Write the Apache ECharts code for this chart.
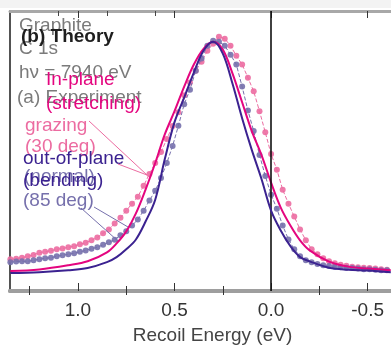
<!DOCTYPE html>
<html>
<head>
<meta charset="utf-8">
<script src="https://cdn.jsdelivr.net/npm/echarts@6/dist/echarts.min.js"></script>
<style>
  html, body { margin: 0; padding: 0; background: #ffffff; }
  #chart { width: 391px; height: 350px; }
</style>
</head>
<body>
<div id="chart"></div>
<script>
// ---- data (energies in eV, intensity in arbitrary normalized units) ----
const theoryEnergy = [1.35, 1.2, 1.05, 0.95, 0.85, 0.8, 0.75, 0.7, 0.65, 0.6, 0.55, 0.5, 0.45, 0.4, 0.35, 0.3, 0.25, 0.2, 0.15, 0.1, 0.05, 0.0, -0.05, -0.1, -0.15, -0.2, -0.3, -0.4, -0.5, -0.62];
const theoryOutOfPlane = [0.064, 0.067, 0.074, 0.082, 0.103, 0.121, 0.149, 0.184, 0.248, 0.326, 0.472, 0.603, 0.691, 0.780, 0.858, 0.890, 0.848, 0.741, 0.617, 0.504, 0.401, 0.287, 0.216, 0.160, 0.121, 0.106, 0.083, 0.076, 0.073, 0.067];
const theoryInPlane = [0.071, 0.077, 0.092, 0.106, 0.138, 0.170, 0.213, 0.277, 0.362, 0.457, 0.560, 0.642, 0.730, 0.809, 0.865, 0.890, 0.862, 0.777, 0.674, 0.571, 0.486, 0.387, 0.298, 0.234, 0.181, 0.145, 0.105, 0.087, 0.080, 0.074];

const expEnergy = [1.35, 1.32, 1.29, 1.26, 1.23, 1.20, 1.17, 1.14, 1.11, 1.08, 1.05, 1.02, 0.99, 0.96, 0.93, 0.90, 0.87, 0.84, 0.81, 0.78, 0.75, 0.72, 0.69, 0.66, 0.63, 0.60, 0.57, 0.54, 0.51, 0.48, 0.45, 0.42, 0.39, 0.36, 0.33, 0.30, 0.27, 0.24, 0.21, 0.18, 0.15, 0.12, 0.09, 0.06, 0.03, 0.00, -0.03, -0.06, -0.09, -0.12, -0.15, -0.18, -0.21, -0.24, -0.27, -0.30, -0.33, -0.36, -0.39, -0.42, -0.45, -0.48, -0.51, -0.54, -0.57, -0.60];
const expGrazing = [0.113, 0.115, 0.119, 0.124, 0.129, 0.137, 0.140, 0.144, 0.149, 0.152, 0.156, 0.160, 0.167, 0.172, 0.181, 0.191, 0.206, 0.220, 0.241, 0.262, 0.287, 0.312, 0.337, 0.376, 0.418, 0.457, 0.496, 0.543, 0.589, 0.638, 0.699, 0.745, 0.787, 0.819, 0.858, 0.883, 0.908, 0.901, 0.876, 0.840, 0.809, 0.762, 0.713, 0.642, 0.567, 0.489, 0.433, 0.362, 0.312, 0.266, 0.220, 0.181, 0.149, 0.131, 0.117, 0.106, 0.099, 0.094, 0.090, 0.087, 0.085, 0.083, 0.082, 0.080, 0.078, 0.076];
const expNormal = [0.103, 0.105, 0.106, 0.106, 0.110, 0.113, 0.117, 0.119, 0.124, 0.128, 0.131, 0.135, 0.140, 0.145, 0.151, 0.156, 0.165, 0.174, 0.183, 0.199, 0.213, 0.234, 0.255, 0.287, 0.323, 0.358, 0.404, 0.457, 0.518, 0.590, 0.667, 0.719, 0.787, 0.830, 0.876, 0.894, 0.890, 0.876, 0.844, 0.809, 0.730, 0.645, 0.571, 0.486, 0.411, 0.344, 0.294, 0.234, 0.184, 0.149, 0.124, 0.110, 0.103, 0.096, 0.092, 0.089, 0.087, 0.085, 0.083, 0.082, 0.080, 0.078, 0.078, 0.076, 0.074, 0.074];

const majorTicks = [-0.5, 0.0, 0.5, 1.0];
const minorTicks = [-0.25, 0.25, 0.75, 1.25];
const topSmallTicks = [1.1, 0.85, 0.6];
const xMin = -0.621, xMax = 1.352;

// ---- styles ----
const FONT = '"Liberation Sans", Arial, sans-serif';
const C_GRAY = '#7b7b7b';
const C_MAGENTA = '#e4057f';
const C_PINK = '#ec6ca1';
const C_INDIGO = '#3b2290';
const C_GRAYPURPLE = '#7670ac';

function pairs(xs, ys) { return xs.map((x, i) => [x, ys[i]]); }

function xAxisBase(pos, extra) {
  return Object.assign({
    type: 'value', position: pos, inverse: true, min: xMin, max: xMax,
    splitLine: { show: false },
    axisLine: { show: true, onZero: false, lineStyle: { color: '#9e9e9e', width: 4 } },
    axisLabel: { show: false },
    axisTick: { show: false }
  }, extra);
}

const chart = echarts.init(document.getElementById('chart'), null, { renderer: 'canvas' });

function txt(x, y, text, color, weight) {
  return {
    type: 'text', x: x, y: y, z: 20,
    style: { text: text, fill: color, font: (weight || 'normal') + ' 19px ' + FONT, align: 'left', verticalAlign: 'middle' }
  };
}
function ln(x1, y1, x2, y2, color) {
  return { type: 'line', z: 20, shape: { x1: x1, y1: y1, x2: x2, y2: y2 }, style: { stroke: color, lineWidth: 1 } };
}

const option = {
  animation: false,
  backgroundColor: '#ffffff',
  grid: { left: 10, right: 0, top: 11, bottom: 56 },
  xAxis: [
    xAxisBase('bottom', {
      axisTick: { show: true, inside: true, length: 8, customValues: majorTicks, lineStyle: { color: '#333', width: 1 } },
      axisLabel: { show: true, customValues: majorTicks, margin: 10, fontSize: 19, color: '#333', fontFamily: FONT,
        formatter: v => v.toFixed(1) },
      name: 'Recoil Energy (eV)', nameLocation: 'middle', nameGap: 35,
      nameTextStyle: { fontSize: 19, color: '#444', fontFamily: FONT, padding: [0, 0, 0, 24] }
    }),
    xAxisBase('bottom', {
      axisTick: { show: true, inside: true, length: 5, customValues: minorTicks, lineStyle: { color: '#333', width: 1 } }
    }),
    xAxisBase('top', {
      axisLine: { show: true, onZero: false, lineStyle: { color: '#a8a8a8', width: 3 } },
      axisTick: { show: true, inside: true, length: 7, customValues: majorTicks, lineStyle: { color: '#333', width: 1 } }
    }),
    xAxisBase('top', {
      axisLine: { show: false },
      axisTick: { show: true, inside: true, length: 4, customValues: minorTicks, lineStyle: { color: '#333', width: 1 } }
    }),
    xAxisBase('top', {
      axisLine: { show: false },
      axisTick: { show: true, inside: true, length: 5, customValues: topSmallTicks, lineStyle: { color: '#444', width: 1 } }
    })
  ],
  yAxis: {
    type: 'value', min: 0, max: 1.0,
    axisLine: { show: true, onZero: false, lineStyle: { color: '#1a1a1a', width: 1.5 } },
    axisTick: { show: false }, axisLabel: { show: false }, splitLine: { show: false }
  },
  series: [
    {
      name: 'grazing (30 deg)', type: 'line', xAxisIndex: 0,
      data: pairs(expEnergy, expGrazing),
      symbol: 'circle', symbolSize: 6, showSymbol: true,
      itemStyle: { color: C_PINK, opacity: 0.9 },
      lineStyle: { color: C_PINK, width: 1, type: [4, 2] },
      z: 2,
      markLine: {
        silent: true, symbol: ['none', 'none'], label: { show: false },
        lineStyle: { color: '#111', width: 1.6, type: 'solid' },
        data: [{ xAxis: 0 }]
      }
    },
    {
      name: 'normal (85 deg)', type: 'line', xAxisIndex: 0,
      data: pairs(expEnergy, expNormal),
      symbol: 'circle', symbolSize: 6, showSymbol: true,
      itemStyle: { color: C_GRAYPURPLE, opacity: 0.9 },
      lineStyle: { color: C_GRAYPURPLE, width: 1, type: [4, 2] },
      z: 3
    },
    {
      name: 'In-plane (stretching)', type: 'line', xAxisIndex: 0,
      data: pairs(theoryEnergy, theoryInPlane),
      smooth: 0.35, symbol: 'none',
      lineStyle: { color: C_MAGENTA, width: 2 },
      z: 4
    },
    {
      name: 'out-of-plane (bending)', type: 'line', xAxisIndex: 0,
      data: pairs(theoryEnergy, theoryOutOfPlane),
      smooth: 0.35, symbol: 'none',
      lineStyle: { color: C_INDIGO, width: 2 },
      z: 5
    }
  ],
  graphic: [
    { type: 'rect', z: -5, shape: { x: 0, y: 0, width: 391, height: 8 }, style: { fill: '#f3f3f3' } },
    txt(19, 26, 'Graphite', C_GRAY),
    txt(19, 49, 'C 1s', C_GRAY),
    txt(19, 73, 'h\u03bd = 7940 eV', C_GRAY),
    txt(17, 98, '(a) Experiment', C_GRAY),
    txt(21, 37, '(b) Theory', '#1e1e1e', 'bold'),
    txt(46, 80, 'In-plane', C_MAGENTA),
    txt(46, 104, '(stretching)', C_MAGENTA),
    txt(25, 126, 'grazing', C_PINK),
    txt(25, 147, '(30 deg)', C_PINK),
    txt(23, 159, 'out-of-plane', C_INDIGO),
    txt(24, 177, '(normal)', C_GRAYPURPLE),
    txt(23, 181, '(bending)', C_INDIGO),
    txt(23, 201, '(85 deg)', C_GRAYPURPLE),
    ln(89, 121, 147, 175, C_PINK),
    ln(118, 164, 147, 175, C_PINK),
    ln(81, 208, 118, 241, C_GRAYPURPLE),
    ln(94, 207, 128, 227, C_GRAYPURPLE)
  ]
};

chart.setOption(option);
</script>
</body>
</html>
